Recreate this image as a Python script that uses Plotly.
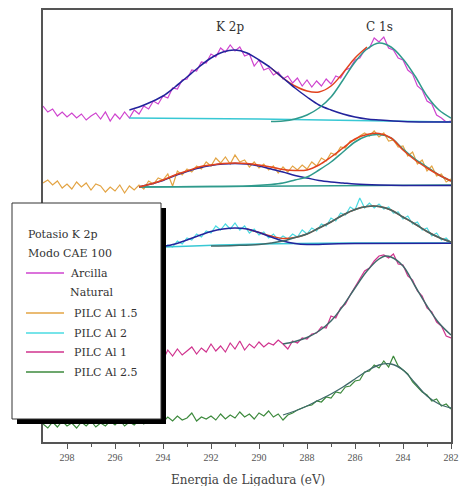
import numpy as np
import plotly.graph_objects as go

# ---------------- data (binding energy in eV, intensity in arbitrary units, stacked) -------------
E_FULL = np.round(np.linspace(299.0, 282.0, 86), 1)
E_SHORT = np.round(np.linspace(295.0, 282.0, 66), 1)

# Arcilla Natural (magenta) - raw spectrum
arcilla = [336, 330, 333, 326, 330, 325, 329, 324, 328, 322,
           326, 329, 323, 330, 321, 328, 323, 330, 324, 332,
           328, 336, 333, 341, 338, 346, 344, 354, 353, 362,
           363, 372, 371, 380, 379, 388, 385, 394, 390, 397,
           391, 395, 386, 388, 376, 382, 372, 374, 367, 370,
           363, 366, 359, 364, 356, 362, 355, 361, 356, 363,
           358, 366, 364, 372, 374, 382, 384, 392, 394, 404,
           400, 405, 394, 392, 384, 382, 372, 368, 356, 352,
           341, 338, 327, 324, 320, 321]
arc_base_x = [295.4, 290.0, 286.0, 282.0]
arc_base_y = [324, 323, 321.5, 320]
arc_k_x = [295.4, 295.0, 294.5, 294.0, 293.5, 293.0, 292.5, 292.0, 291.5, 291.0, 290.5, 290.0,
           289.5, 289.0, 288.5, 288.0, 287.5, 287.0, 286.5, 286.0, 285.5, 285.0, 284.0, 283.0, 282.0]
arc_k_y = [332, 335, 340, 346, 355, 365, 375, 384, 390, 392, 389, 382,
           374, 364, 354, 345, 337, 332, 328, 325, 323, 322, 320.5, 320, 320]
arc_c_x = [289.5, 289.0, 288.5, 288.0, 287.5, 287.0, 286.5, 286.0, 285.5, 285.0,
           284.5, 284.0, 283.5, 283.0, 282.5, 282.0]
arc_c_y = [320.5, 321, 323, 327, 334, 345, 362, 380, 393, 399,
           395, 383, 366, 346, 332, 324]
arc_env_x = [289.5, 289.0, 288.5, 288.0, 287.5, 287.0, 286.5, 286.0, 285.5]
arc_env_y = [374, 364, 356, 351, 350, 356, 369, 384, 395]

# PILC Al 1.5 (orange)
pilc15 = [259, 262, 257, 261, 254, 258, 253, 260, 255, 259,
          252, 258, 256, 250, 255, 251, 257, 249, 256, 252,
          257, 253, 261, 258, 264, 262, 268, 256, 271, 267,
          273, 270, 276, 273, 280, 276, 284, 279, 285, 278,
          287, 280, 282, 275, 280, 274, 278, 272, 276, 269,
          275, 270, 276, 272, 277, 273, 280, 276, 284, 281,
          289, 287, 295, 294, 301, 302, 306, 309, 306, 311,
          305, 309, 301, 302, 295, 296, 286, 290, 278, 282,
          271, 276, 266, 268, 260, 263]
p15_base_x = [295.0, 282.0]
p15_base_y = [255, 257]
p15_env_x = [295.0, 294.5, 294.0, 293.5, 293.0, 292.5, 292.0, 291.5, 291.0, 290.5, 290.0, 289.5,
             289.0, 288.5, 288.0, 287.5, 287.0, 286.5, 286.0, 285.5, 285.0, 284.5, 284.0, 283.5,
             283.0, 282.5, 282.0]
p15_env_y = [255, 258, 262, 267, 271, 275, 277, 278.5, 279, 278.5, 277, 275,
             272.5, 271.5, 272, 277, 285, 294, 303, 307.5, 308.5, 304, 292, 282,
             274, 267, 261]
p15_k_x = [295.0, 294.5, 294.0, 293.5, 293.0, 292.5, 292.0, 291.5, 291.0, 290.5, 290.0, 289.5,
           289.0, 288.5, 288.0, 287.5, 287.0, 286.5, 286.0, 285.0, 284.0, 282.0]
p15_k_y = [255, 258, 261.5, 266.5, 270.5, 274, 276.5, 278, 278.5, 278, 276, 273,
           270, 266.5, 264, 261.5, 260, 259, 258, 257, 256.5, 256.5]
p15_c_x = [295.0, 292.0, 290.5, 289.5, 289.0, 288.5, 288.0, 287.5, 287.0, 286.5, 286.0, 285.5,
           285.0, 284.5, 284.0, 283.5, 283.0, 282.5, 282.0]
p15_c_y = [255, 255.5, 256, 257.5, 259, 262, 265, 272, 280, 290, 300, 306,
           307.5, 304, 293, 283, 275, 267, 261]

# PILC Al 2 (cyan)
pilc2 = [196, 193, 197, 194, 198, 193, 197, 195, 201, 198,
         204, 202, 208, 205, 211, 209, 216, 212, 218, 213,
         219, 212, 216, 209, 213, 207, 210, 204, 208, 202,
         206, 203, 208, 205, 212, 208, 214, 211, 218, 216,
         224, 221, 229, 227, 235, 232, 244, 234, 239, 234,
         238, 233, 235, 229, 230, 223, 226, 218, 220, 212,
         214, 206, 209, 202, 204, 199]
p2_base_x = [294.0, 290.0, 286.0, 282.0]
p2_base_y = [195, 198, 199, 199]
p2_k_x = [294.0, 293.5, 293.0, 292.5, 292.0, 291.5, 291.0, 290.5, 290.0, 289.5, 289.0, 288.5,
          288.0, 287.0, 286.0, 282.0]
p2_k_y = [195.5, 198, 202, 206.5, 210.5, 213, 214, 213, 209.5, 205, 201, 198.5,
          197.5, 198, 198.5, 198.7]
p2_env_x = [290.5, 290.0, 289.5, 289.0, 288.5, 288.0, 287.5, 287.0, 286.5, 286.0, 285.5, 285.0,
            284.5, 284.0, 283.5, 283.0, 282.5, 282.0]
p2_env_y = [213, 209.5, 206, 203.5, 204.5, 208, 214, 220, 227, 232.5, 235.5, 235.5,
            232, 225, 218, 210.5, 204.5, 200]
p2_c_x = [292.0, 291.0, 290.0, 289.5, 289.0, 288.5, 288.0, 287.5, 287.0, 286.5, 286.0, 285.5,
          285.0, 284.5, 284.0, 283.5, 283.0, 282.5, 282.0]
p2_c_y = [196, 196.5, 197.5, 199, 201, 204.5, 208, 214, 220, 227, 232.5, 235.5,
          235.5, 232, 225, 218, 210.5, 204.5, 200]

# PILC Al 1 (pink)
pilc1 = [90, 84, 91, 83, 89, 82, 92, 86, 93, 87,
         91, 95, 88, 94, 90, 98, 91, 96, 90, 99,
         93, 101, 92, 98, 94, 100, 95, 99, 97, 102,
         98, 93, 101, 99, 104, 103, 108, 109, 115, 114,
         126, 124, 134, 138, 147, 155, 162, 171, 174, 181,
         186, 187, 184, 188, 178, 177, 166, 162, 151, 146,
         134, 130, 120, 116, 106, 104]
p1_fit_x = [289.0, 288.5, 288.0, 287.5, 287.0, 286.5, 286.0, 285.5, 285.0, 284.75, 284.5, 284.0,
            283.5, 283.0, 282.5, 282.0]
p1_fit_y = [98, 100.5, 104.5, 111, 121, 136, 154, 171, 183, 186, 185, 176,
            156, 136, 119, 107]

# PILC Al 2.5 (green)
pilc25 = [18, 14, 20, 15, 21, 16, 19, 14, 20, 16,
          21, 15, 19, 16, 21, 17, 22, 16, 20, 17,
          22, 18, 23, 19, 24, 20, 25, 21, 26, 22,
          24, 29, 21, 25, 23, 26, 22, 28, 23, 27,
          24, 30, 25, 28, 23, 29, 26, 31, 25, 28,
          22, 27, 29, 32, 34, 36, 37, 41, 40, 45,
          44, 50, 49, 55, 56, 61, 62, 70, 71, 77,
          74, 81, 75, 86, 76, 72, 68, 60, 55, 50,
          47, 41, 43, 36, 38, 33]
p25_fit_x = [289.0, 288.5, 288.0, 287.5, 287.0, 286.5, 286.0, 285.5, 285.0, 284.5, 284.0, 283.5,
             283.0, 282.5, 282.0]
p25_fit_y = [27, 31, 36, 42, 48, 55, 63, 71, 77, 78, 72, 59, 46, 38, 34]

TICK_VALS = [298, 296, 294, 292, 290, 288, 286, 284, 282]
TICK_TEXT = ["298", "296", "294", "292", "290", "288", "286", "284", "282"]
MINOR_VALS = [297, 295, 293, 291, 289, 287, 285, 283]
X_TITLE = "Energia de Ligadura (eV)"

LEGEND_LABELS = ["Arcilla", "PILC Al 1.5", "PILC Al 2", "PILC Al 1", "PILC Al 2.5"]

# ---------------- styles -------------
C_ARC = "#cf44cf"
C_P15 = "#e3a444"
C_P2 = "#4adbe2"
C_P1 = "#d0338e"
C_P25 = "#3d8a3d"
C_BLUE = "#23239c"
C_TEAL = "#2f9a8c"
C_RED = "#e2431e"
C_BASE = "#38c8d4"
C_FIT = "#3f6a6a"

fig = go.Figure()


def add(x, y, color, width=1.2, spline=False):
    fig.add_trace(go.Scatter(x=list(x), y=y, mode="lines",
                             line=dict(color=color, width=width,
                                       shape="spline" if spline else "linear"),
                             showlegend=False, hoverinfo="skip"))


# series 1
add(E_FULL, arcilla, C_ARC)
add(arc_base_x, arc_base_y, C_BASE, 1.5, True)
add(arc_env_x, arc_env_y, C_RED, 1.5, True)
add(arc_k_x, arc_k_y, C_BLUE, 1.5, True)
add(arc_c_x, arc_c_y, C_TEAL, 1.5, True)
# series 2
add(E_FULL, pilc15, C_P15)
add(p15_base_x, p15_base_y, C_TEAL, 1.5, True)
add(p15_k_x, p15_k_y, C_BLUE, 1.5, True)
add(p15_c_x, p15_c_y, C_TEAL, 1.5, True)
add(p15_env_x, p15_env_y, C_RED, 1.5, True)
# series 3
add(E_SHORT, pilc2, C_P2)
add(p2_base_x, p2_base_y, C_BASE, 1.5, True)
add(p2_env_x, p2_env_y, C_RED, 1.5, True)
add(p2_k_x, p2_k_y, C_BLUE, 1.5, True)
add(p2_c_x, p2_c_y, C_FIT, 1.5, True)
# series 4
add(E_SHORT, pilc1, C_P1)
add(p1_fit_x, p1_fit_y, C_FIT, 1.5, True)
# series 5
add(E_FULL, pilc25, C_P25)
add(p25_fit_x, p25_fit_y, C_FIT, 1.3, True)

SERIF = "DejaVu Serif"

fig.update_layout(
    width=459, height=486,
    margin=dict(l=43, r=8, t=10, b=44),
    paper_bgcolor="white", plot_bgcolor="white",
    showlegend=False,
    xaxis=dict(range=[299, 282], tickmode="array", tickvals=TICK_VALS, ticktext=TICK_TEXT,
               ticks="outside", ticklen=5, tickwidth=1, tickcolor="#555",
               minor=dict(tickvals=MINOR_VALS, ticks="outside", ticklen=3, tickcolor="#555"),
               showline=True, linecolor="#555", linewidth=1.5, mirror=True,
               showgrid=False, zeroline=False, automargin=False,
               tickfont=dict(family="Liberation Serif", size=10, color="#555")),
    yaxis=dict(range=[0, 432], showticklabels=False, ticks="", showline=True,
               linecolor="#555", linewidth=1.5, mirror=True, showgrid=False,
               zeroline=False, automargin=False),
)

# peak labels
fig.add_annotation(x=291.2, y=415, text="K 2p", showarrow=False,
                   font=dict(family=SERIF, size=12, color="#333"))
fig.add_annotation(x=285.0, y=415, text="C 1s", showarrow=False,
                   font=dict(family=SERIF, size=12, color="#333"))

# ---------------- legend box and axis title (paper coordinates) -------------
W, H, L = 408.0, 432.0, 43.0


def px(x):
    return (x - L) / W


def py(y):
    return (442.0 - y) / H


fig.add_annotation(xref="paper", yref="paper", x=px(248), y=py(480), text=X_TITLE,
                   showarrow=False, xanchor="center", yanchor="middle",
                   font=dict(family=SERIF, size=12, color="#444"))

fig.add_shape(type="rect", xref="paper", yref="paper", layer="above",
              x0=px(17), x1=px(166), y0=py(424), y1=py(208),
              fillcolor="black", line=dict(width=0))
fig.add_shape(type="rect", xref="paper", yref="paper", layer="above",
              x0=px(12), x1=px(161), y0=py(419), y1=py(203),
              fillcolor="white", line=dict(color="#333", width=1))

for txt, yy in [("Potasio K 2p", 234), ("Modo CAE 100", 253)]:
    fig.add_annotation(xref="paper", yref="paper", x=px(26), y=py(yy), text=txt,
                       showarrow=False, xanchor="left", yanchor="middle",
                       font=dict(family=SERIF, size=11, color="#333"))

rows = [(LEGEND_LABELS[0], C_ARC, 273, 68),
        (LEGEND_LABELS[1], C_P15, 313, 72),
        (LEGEND_LABELS[2], C_P2, 333, 72),
        (LEGEND_LABELS[3], C_P1, 352, 72),
        (LEGEND_LABELS[4], C_P25, 372, 72)]
for label, col, yy, tx in rows:
    fig.add_shape(type="line", xref="paper", yref="paper", layer="above",
                  x0=px(26), x1=px(64), y0=py(yy), y1=py(yy),
                  line=dict(color=col, width=1.5))
    fig.add_annotation(xref="paper", yref="paper", x=px(tx), y=py(yy), text=label,
                       showarrow=False, xanchor="left", yanchor="middle",
                       font=dict(family=SERIF, size=11, color="#333"))
fig.add_annotation(xref="paper", yref="paper", x=px(68), y=py(292), text="Natural",
                   showarrow=False, xanchor="left", yanchor="middle",
                   font=dict(family=SERIF, size=11, color="#333"))

fig.write_html("out.html")
